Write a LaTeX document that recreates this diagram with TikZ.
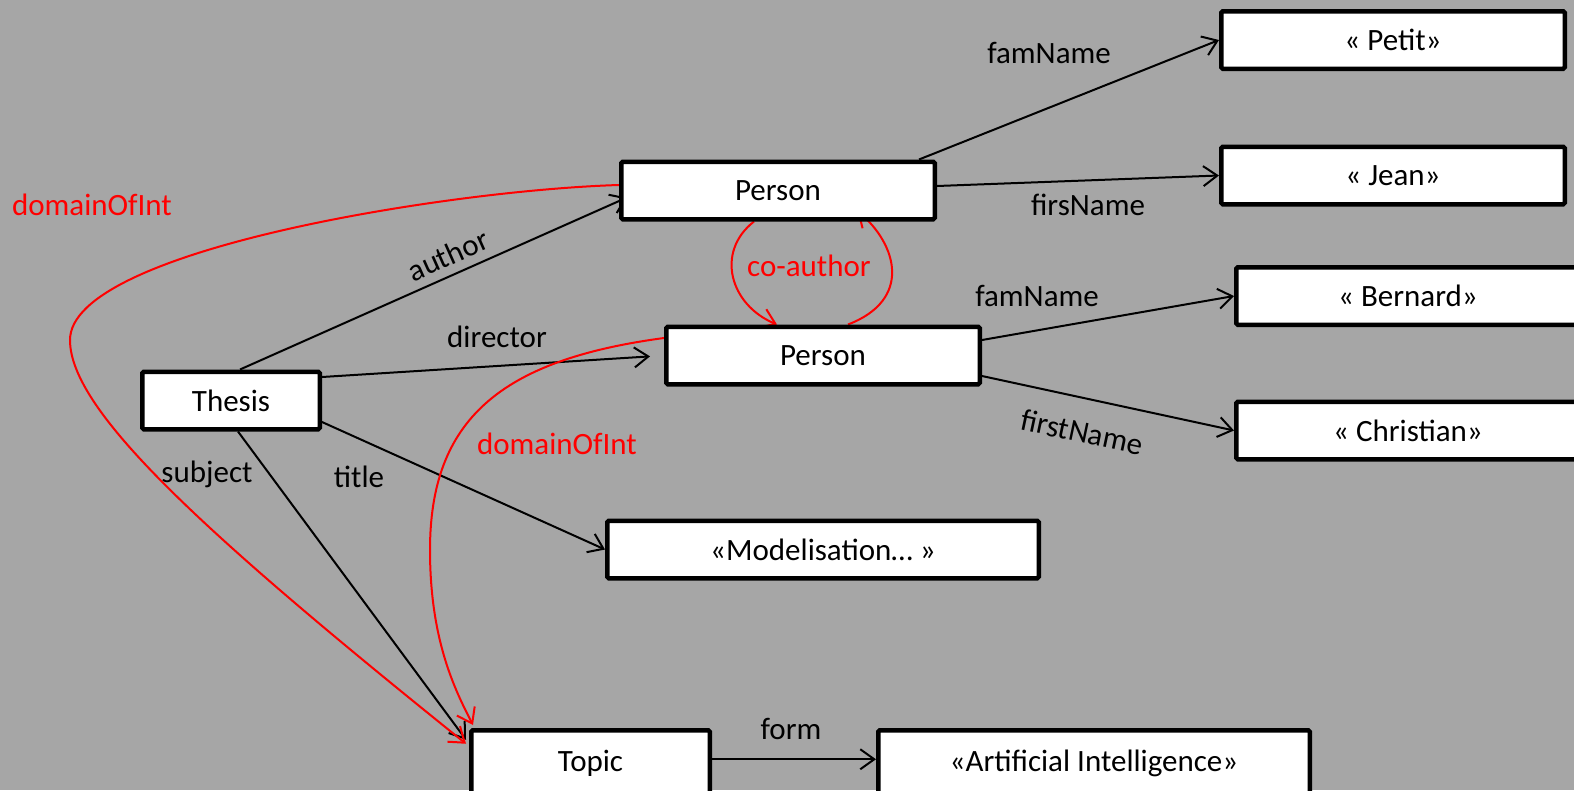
\documentclass[tikz,border=0pt]{standalone}
\usepackage{fontspec}
\setmainfont{Carlito}
\usetikzlibrary{arrows.meta}
\definecolor{bggray}{RGB}{166,166,166}
\definecolor{rd}{RGB}{255,0,0}
\pgfdeclarelayer{bglayer}
\pgfdeclarelayer{edgelayer}
\pgfsetlayers{bglayer,edgelayer,main}
\tikzset{
 box/.style={draw=black, fill=white, line width=4.5pt, rounded corners=1.5pt, minimum height=57.5pt, inner sep=0pt, font=\fontsize{31}{37}\selectfont},
 lbl/.style={font=\fontsize{31}{37}\selectfont, inner sep=0pt},
 rlbl/.style={lbl, text=rd},
 arr/.style={line width=2pt, -{Straight Barb[length=14pt,width=20pt]}},
 rarr/.style={arr, draw=rd},
}
\begin{document}
\begin{tikzpicture}[x=1pt,y=-1pt]
\useasboundingbox (0,0) rectangle (1574,790);
\begin{pgfonlayer}{bglayer}
\fill[bggray] (0,0) rectangle (1574,790);
\end{pgfonlayer}
\clip (0,0) rectangle (1574,790);
% nodes
\node[box, minimum width=343.5pt] (petit) at (1393,40) {« Petit»};
\node[box, minimum width=343.5pt] (jean) at (1393,175.5) {« Jean»};
\node[box, minimum width=313.5pt] (p1) at (778,190.5) {Person};
\node[box, minimum width=343.5pt] (bernard) at (1408,296) {« Bernard»};
\node[box, minimum width=313.5pt] (p2) at (823,355.5) {Person};
\node[box, minimum width=343.5pt] (christian) at (1408,430.5) {« Christian»};
\node[box, minimum width=177.5pt] (thesis) at (231,400.5) {Thesis};
\node[box, minimum width=431.5pt] (model) at (823,549.5) {«Modelisation… »};
\node[box, minimum width=238.5pt, minimum height=66pt] (topic) at (590.5,763.25) {Topic};
\node[box, minimum width=431.5pt, minimum height=66pt] (ai) at (1094,763.25) {«Artificial Intelligence»};
% labels
\node[lbl] (lfam1) at (1049,53) {famName};
\node[lbl] (lfirs) at (1088,205) {firsName};
\node[lbl] (lfam2) at (1037,296) {famName};
\node[lbl, rotate=-12] (lfirst) at (1082,432) {firstName};
\node[lbl, rotate=24] (lauthor) at (448,255) {author};
\node[lbl] (ldir) at (497,337) {director};
\node[lbl] (ltitle) at (359,477) {title};
\node[lbl] (lsubj) at (207,474) {subject};
\node[lbl] (lform) at (791,729) {form};
\node[rlbl] (ldom1) at (92,205) {domainOfInt};
\node[rlbl] (ldom2) at (557,444) {domainOfInt};
\node[rlbl] (lco) at (809,266) {co-author};
% edges
\begin{pgfonlayer}{edgelayer}
\draw[arr] ([xshift=-18pt]p1.north east) -- (petit.west);
\draw[arr] ([yshift=4.5pt]p1.east) -- (jean.west);
\draw[arr] ([yshift=15.5pt]p2.east) -- (bernard.west);
\draw[arr] ([yshift=-20.5pt]p2.east) -- (christian.west);
\draw[arr] ([xshift=9pt]thesis.north) -- ([xshift=8pt,yshift=-7pt]p1.west);
\draw[arr, shorten >=14pt] ([yshift=23.5pt]thesis.east) -- (p2.west);
\draw[arr] ([yshift=-21.5pt]thesis.east) -- (model.west);
\draw[arr] ([xshift=7pt]thesis.south) -- ([xshift=-3pt,yshift=-11.75pt]topic.north west);
\draw[arr] ([yshift=4pt]topic.east) -- ([yshift=4pt]ai.west);
\draw[rarr] ([yshift=5.5pt]p1.west) .. controls (450,190) and (70,250) .. (70,340)
  .. controls (70,410) and (200,530) .. ([xshift=-3pt,yshift=-15.75pt]topic.north west);
\draw[rarr] ([yshift=17.5pt]p2.west) .. controls (500,360) and (430,420) .. (430,550)
  .. controls (430,640) and (455,690) .. ([xshift=4pt,yshift=3pt]topic.north west);
\draw[rarr] ([xshift=-24pt]p1.south) .. controls (715,252) and (730,305) .. ([xshift=-46pt]p2.north);
\draw[rarr] ([xshift=25pt]p2.north) .. controls (912,300) and (898,245) .. ([xshift=79pt,yshift=11pt]p1.south);
\end{pgfonlayer}
\end{tikzpicture}
\end{document}
